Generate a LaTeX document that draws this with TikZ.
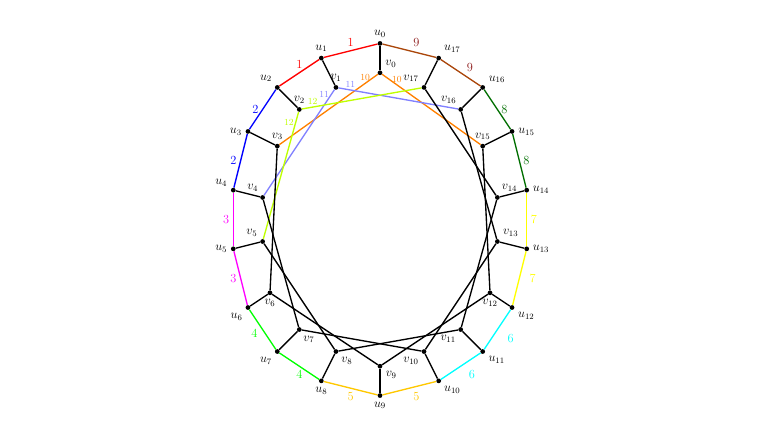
\documentclass[tikz,border=0pt]{standalone}
\usepackage{amsmath}
\usepackage{tikz}
\usetikzlibrary{calc,positioning}

\definecolor{cthree}{RGB}{255,0,255}
\definecolor{cfive}{RGB}{255,200,0}
\definecolor{csix}{RGB}{0,255,255}
\definecolor{cseven}{RGB}{255,255,0}
\definecolor{ceight}{RGB}{0,110,0}
\definecolor{cnine}{RGB}{170,70,10}
\definecolor{cninelab}{RGB}{140,25,25}

\tikzset{
  vtx/.style={circle,fill=black,inner sep=0pt,minimum size=4.6pt},
  edg/.style={line width=1.3pt},
  inum/.style={font=\small,inner sep=1.5pt}
}

\begin{document}
\begin{tikzpicture}[x=0.5cm,y=0.5cm,font=\large]
\useasboundingbox (-25.9,-13.8) rectangle (27.4,14.96);

% outer cycle
\node[vtx,label={90:$u_0$}] (u0) at (0,12) {};
\node[vtx,label={90:$u_1$}] (u1) at (-4,11) {};
\node[vtx,label={135:$u_2$}] (u2) at (-7,9) {};
\node[vtx,label={180:$u_3$}] (u3) at (-9,6) {};
\node[vtx,label={175:$u_4$}] (u4) at (-10,2) {};
\node[vtx,label={180:$u_5$}] (u5) at (-10,-2) {};
\node[vtx,label={225:$u_6$}] (u6) at (-9,-6) {};
\node[vtx,label={225:$u_7$}] (u7) at (-7,-9) {};
\node[vtx,label={270:$u_8$}] (u8) at (-4,-11) {};
\node[vtx,label={270:$u_9$}] (u9) at (0,-12) {};
\node[vtx,label={315:$u_{10}$}] (u10) at (4,-11) {};
\node[vtx,label={330:$u_{11}$}] (u11) at (7,-9) {};
\node[vtx,label={345:$u_{12}$}] (u12) at (9,-6) {};
\node[vtx,label={0:$u_{13}$}] (u13) at (10,-2) {};
\node[vtx,label={0:$u_{14}$}] (u14) at (10,2) {};
\node[vtx,label={0:$u_{15}$}] (u15) at (9,6) {};
\node[vtx,label={20:$u_{16}$}] (u16) at (7,9) {};
\node[vtx,label={45:$u_{17}$}] (u17) at (4,11) {};

% inner vertices
\node[vtx,label={45:$v_0$}] (v0) at (0,10) {};
\node[vtx,label={90:$v_1$}] (v1) at (-3,9) {};
\node[vtx,label={90:$v_2$}] (v2) at (-5.5,7.5) {};
\node[vtx,label={90:$v_3$}] (v3) at (-7,5) {};
\node[vtx,label={110:$v_4$}] (v4) at (-8,1.5) {};
\node[vtx,label={135:$v_5$}] (v5) at (-8,-1.5) {};
\node[vtx,label={270:$v_6$}] (v6) at (-7.5,-5) {};
\node[vtx,label={280:$v_7$}] (v7) at (-5.5,-7.5) {};
\node[vtx,label={315:$v_8$}] (v8) at (-3,-9) {};
\node[vtx,label={330:$v_9$}] (v9) at (0,-10) {};
\node[vtx,label={225:$v_{10}$}] (v10) at (3,-9) {};
\node[vtx,label={240:$v_{11}$}] (v11) at (5.5,-7.5) {};
\node[vtx,label={270:$v_{12}$}] (v12) at (7.5,-5) {};
\node[vtx,label={35:$v_{13}$}] (v13) at (8,-1.5) {};
\node[vtx,label={70:$v_{14}$}] (v14) at (8,1.5) {};
\node[vtx,label={90:$v_{15}$}] (v15) at (7,5) {};
\node[vtx,label={110:$v_{16}$}] (v16) at (5.5,7.5) {};
\node[vtx,label={135:$v_{17}$}] (v17) at (3,9) {};

% outer edges
\draw[edg,red] (u0) -- node[above]{1} (u1);
\draw[edg,red] (u1) -- node[above]{1} (u2);
\draw[edg,blue] (u2) -- node[left]{2} (u3);
\draw[edg,blue] (u3) -- node[left]{2} (u4);
\draw[edg,cthree] (u4) -- node[left]{3} (u5);
\draw[edg,cthree] (u5) -- node[left]{3} (u6);
\draw[edg,green] (u6) -- node[below left=-4pt and 1pt]{4} (u7);
\draw[edg,green] (u7) -- node[below]{4} (u8);
\draw[edg,cfive] (u8) -- node[below]{5} (u9);
\draw[edg,cfive] (u9) -- node[below right]{5} (u10);
\draw[edg,csix] (u10) -- node[below right=0pt and 4pt]{6} (u11);
\draw[edg,csix] (u11) -- node[below right=1pt and 6pt]{6} (u12);
\draw[edg,cseven] (u12) -- node[right=6pt]{7} (u13);
\draw[edg,cseven] (u13) -- node[right]{7} (u14);
\draw[edg,ceight] (u14) -- node[right]{8} (u15);
\draw[edg,ceight] (u15) -- node[right]{8} (u16);
\draw[edg,cnine] (u16) -- node[above right=-3pt and 2pt,text=cninelab]{9} (u17);
\draw[edg,cnine] (u17) -- node[above right,text=cninelab]{9} (u0);

% spokes
\draw[edg] (u0) -- (v0);
\draw[edg] (u1) -- (v1);
\draw[edg] (u2) -- (v2);
\draw[edg] (u3) -- (v3);
\draw[edg] (u4) -- (v4);
\draw[edg] (u5) -- (v5);
\draw[edg] (u6) -- (v6);
\draw[edg] (u7) -- (v7);
\draw[edg] (u8) -- (v8);
\draw[edg] (u9) -- (v9);
\draw[edg] (u10) -- (v10);
\draw[edg] (u11) -- (v11);
\draw[edg] (u12) -- (v12);
\draw[edg] (u13) -- (v13);
\draw[edg] (u14) -- (v14);
\draw[edg] (u15) -- (v15);
\draw[edg] (u16) -- (v16);
\draw[edg] (u17) -- (v17);

% inner edges
\draw[edg,orange] (v0) -- node[inum,pos=.13,above]{10} (v3);
\draw[edg,orange] (v0) -- node[inum,pos=.15,above]{10} (v15);
\draw[edg,blue!50] (v1) -- node[inum,pos=.05,left]{11} (v4);
\draw[edg,blue!50] (v1) -- node[inum,pos=.1,above]{11} (v16);
\draw[edg,lime] (v2) -- node[inum,pos=.08,left]{12} (v5);
\draw[edg,lime] (v2) -- node[inum,pos=.09,above]{12} (v17);
\draw[edg] (v3) -- (v6);
\draw[edg] (v4) -- (v7);
\draw[edg] (v5) -- (v8);
\draw[edg] (v6) -- (v9);
\draw[edg] (v7) -- (v10);
\draw[edg] (v8) -- (v11);
\draw[edg] (v9) -- (v12);
\draw[edg] (v10) -- (v13);
\draw[edg] (v11) -- (v14);
\draw[edg] (v12) -- (v15);
\draw[edg] (v13) -- (v16);
\draw[edg] (v14) -- (v17);

\end{tikzpicture}
\end{document}
